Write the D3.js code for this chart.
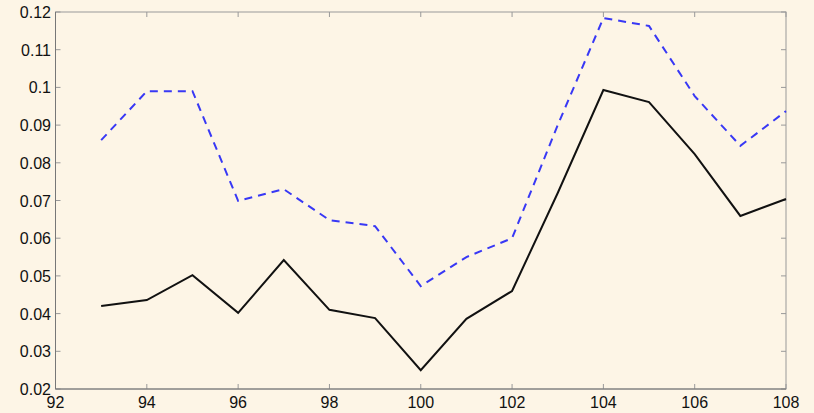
<!DOCTYPE html>
<html>
<head>
<meta charset="utf-8">
<script src="https://cdn.jsdelivr.net/npm/d3@7"></script>
<style>
  body { margin: 0; background: #fdf5e6; }
  svg { display: block; }
  text { font-family: "Liberation Sans", Arial, sans-serif; font-size: 16px; fill: #111; }
</style>
</head>
<body>
<svg width="814" height="413"></svg>
<script>
// data
var years = [93, 94, 95, 96, 97, 98, 99, 100, 101, 102, 103, 104, 105, 106, 107, 108];
var solidSeries = [0.042, 0.0436, 0.0502, 0.0402, 0.0542, 0.041, 0.0388, 0.025, 0.0386, 0.046, 0.072, 0.0993, 0.0961, 0.0823, 0.0659, 0.0704];
var dashedSeries = [0.086, 0.099, 0.099, 0.0699, 0.073, 0.0648, 0.0632, 0.0473, 0.055, 0.060, 0.090, 0.1184, 0.1163, 0.0977, 0.0845, 0.0937];
var xTicks = [92, 94, 96, 98, 100, 102, 104, 106, 108];
var yTicks = [0.02, 0.03, 0.04, 0.05, 0.06, 0.07, 0.08, 0.09, 0.1, 0.11, 0.12];

var svg = d3.select('svg');
var plotLeft = 55.5, plotRight = 786, plotTop = 12, plotBottom = 389;

var x = d3.scaleLinear().domain([92, 108]).range([plotLeft, plotRight]);
var y = d3.scaleLinear().domain([0.02, 0.12]).range([plotBottom, plotTop]);

// box
svg.append('rect')
    .attr('x', plotLeft).attr('y', plotTop)
    .attr('width', plotRight - plotLeft).attr('height', plotBottom - plotTop)
    .style('fill', 'none')
    .style('stroke', '#999')
    .style('stroke-width', 1);

// ticks (inward on all sides)
var tickLen = 5;
var grid = svg.append('g').style('stroke', '#999').style('stroke-width', 1);
xTicks.forEach(function(t) {
    grid.append('line').attr('x1', x(t)).attr('x2', x(t)).attr('y1', plotBottom).attr('y2', plotBottom - tickLen);
    grid.append('line').attr('x1', x(t)).attr('x2', x(t)).attr('y1', plotTop).attr('y2', plotTop + tickLen);
});
yTicks.forEach(function(t) {
    grid.append('line').attr('y1', y(t)).attr('y2', y(t)).attr('x1', plotLeft).attr('x2', plotLeft + tickLen);
    grid.append('line').attr('y1', y(t)).attr('y2', y(t)).attr('x1', plotRight).attr('x2', plotRight - tickLen);
});

// left / bottom axis lines a bit darker
svg.append('line').attr('x1', plotLeft).attr('x2', plotLeft).attr('y1', plotTop).attr('y2', plotBottom)
    .style('stroke', '#777');
svg.append('line').attr('x1', plotLeft).attr('x2', plotRight).attr('y1', plotBottom).attr('y2', plotBottom)
    .style('stroke', '#777');

// tick labels
svg.append('g').selectAll('text')
    .data(xTicks)
    .enter().append('text')
    .attr('x', d => x(d))
    .attr('y', 408)
    .attr('text-anchor', 'middle')
    .text(d => d);

svg.append('g').selectAll('text')
    .data(yTicks)
    .enter().append('text')
    .attr('x', 51)
    .attr('y', d => y(d) + 6)
    .attr('text-anchor', 'end')
    .text(d => d3.format('~g')(d));

var line = d3.line()
    .x((d, i) => x(years[i]))
    .y(d => y(d));

svg.append('path')
    .datum(dashedSeries)
    .attr('d', line)
    .style('fill', 'none')
    .style('stroke', '#3838f5')
    .style('stroke-width', 2)
    .style('stroke-dasharray', '8,6');

svg.append('path')
    .datum(solidSeries)
    .attr('d', line)
    .style('fill', 'none')
    .style('stroke', '#111')
    .style('stroke-width', 2);
</script>
</body>
</html>
